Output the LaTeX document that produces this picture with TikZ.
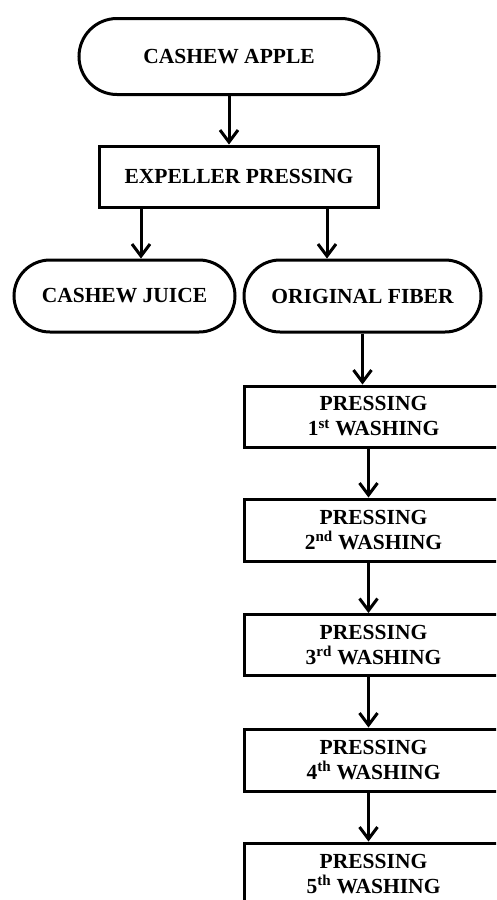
\documentclass[tikz,border=0pt]{standalone}
\usepackage{fontspec}
\setmainfont{Liberation Serif}
\usetikzlibrary{shapes.misc,arrows.meta}

\begin{document}
\begin{tikzpicture}[x=1pt,y=-1pt]
                \tikzset{term/.style = {shape=rounded rectangle,draw,line width=3pt,inner sep=0pt,font=\bfseries\fontsize{21.5}{25}\selectfont}}
                \tikzset{process/.style = {shape=rectangle,draw,line width=3pt,inner sep=0pt,align=center,font=\bfseries\fontsize{21.5}{25}\selectfont}}
                \tikzset{edge/.style = {line width=3pt,-{Straight Barb[length=12pt,width=18pt]}}}
                \clip (0,0) rectangle (496,900);
                % vertices
                \node[term, minimum width=300pt, minimum height=76pt] (apple) at (229,56.5) {CASHEW APPLE};
                \node[process, minimum width=279pt, minimum height=61pt] (expeller) at (239,176.5) {EXPELLER PRESSING};
                \node[term, minimum width=221pt, minimum height=72pt] (juice) at (124.5,296) {CASHEW JUICE};
                \node[term, minimum width=237pt, minimum height=72pt] (fiber) at (362.5,296) {ORIGINAL FIBER};

                \node[process, minimum width=259pt, minimum height=61pt] (wash1) at (373.5,416.5) {PRESSING\\1\textsuperscript{st} WASHING};
                \node[process, minimum width=259pt, minimum height=62pt] (wash2) at (373.5,530) {PRESSING\\2\textsuperscript{nd} WASHING};
                \node[process, minimum width=259pt, minimum height=61pt] (wash3) at (373.5,645) {PRESSING\\3\textsuperscript{rd} WASHING};
                \node[process, minimum width=259pt, minimum height=62pt] (wash4) at (373.5,760) {PRESSING\\4\textsuperscript{th} WASHING};
                \node[process, minimum width=259pt, minimum height=62pt] (wash5) at (373.5,874) {PRESSING\\5\textsuperscript{th} WASHING};
                %edges
                \draw[edge] (apple.south) to (apple.south |- expeller.north);
                \draw[edge] ([xshift=16.5pt]juice.north |- expeller.south) to ([xshift=16.5pt]juice.north);
                \draw[edge] ([xshift=-35.5pt]fiber.north |- expeller.south) to ([xshift=-35.5pt]fiber.north);
                \draw[edge] (fiber.south) to (fiber.south |- wash1.north);

                \draw[edge] ([xshift=-5pt]wash1.south) to ([xshift=-5pt]wash2.north);
                \draw[edge] ([xshift=-5pt]wash2.south) to ([xshift=-5pt]wash3.north);
                \draw[edge] ([xshift=-5pt]wash3.south) to ([xshift=-5pt]wash4.north);
                \draw[edge] ([xshift=-5pt]wash4.south) to ([xshift=-5pt]wash5.north);
            \end{tikzpicture}
\end{document}
